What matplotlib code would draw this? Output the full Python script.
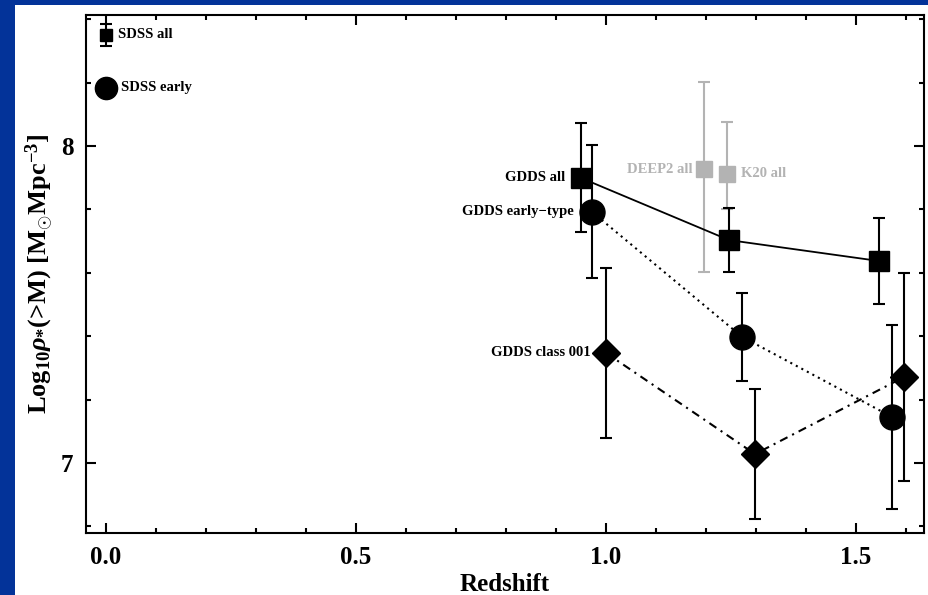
import matplotlib
matplotlib.use("Agg")
import matplotlib.pyplot as plt
from matplotlib.patches import Rectangle
from matplotlib.ticker import MultipleLocator, FixedLocator

plt.rcParams["font.family"] = ["Liberation Serif", "DejaVu Serif"]
plt.rcParams["font.weight"] = "bold"
plt.rcParams["mathtext.fontset"] = "custom"
plt.rcParams["mathtext.rm"] = "Liberation Serif:bold"
plt.rcParams["mathtext.it"] = "Liberation Serif:italic:bold"
plt.rcParams["mathtext.bf"] = "Liberation Serif:bold"

# Local SDSS reference points
sdss_all_z, sdss_all_rho, sdss_all_err = 0.0, 8.35, 0.035
sdss_early_z, sdss_early_rho = 0.0, 8.183

# GDDS: all galaxies
gdds_all_z = [0.95, 1.246, 1.546]
gdds_all_rho = [7.899, 7.703, 7.637]
gdds_all_err = [0.172, 0.10, 0.135]

# GDDS: early-type galaxies
gdds_early_z = [0.972, 1.272, 1.572]
gdds_early_rho = [7.792, 7.398, 7.145]
gdds_early_err = [0.21, 0.139, 0.29]

# GDDS: class 001
gdds_c001_z = [1.0, 1.298, 1.596]
gdds_c001_rho = [7.347, 7.028, 7.271]
gdds_c001_err = [0.268, 0.205, 0.328]

# Comparison surveys
deep2_z, deep2_rho = 1.196, 7.927
deep2_err_lo, deep2_err_hi = 0.325, 0.275
k20_z, k20_rho = 1.242, 7.912
k20_err_lo, k20_err_hi = 0.111, 0.164

fig = plt.figure(figsize=(9.29, 5.95), dpi=100)
fig.patch.set_facecolor("white")
# slide background strips
blue = "#033399"
fig.add_artist(Rectangle((0, 0), 15 / 929, 1, transform=fig.transFigure,
                         facecolor=blue, edgecolor="none", zorder=-10))
fig.add_artist(Rectangle((0, 1 - 5 / 595), 1, 5 / 595, transform=fig.transFigure,
                         facecolor=blue, edgecolor="none", zorder=-10))

ax = fig.add_axes([86 / 929, 62 / 595, 838 / 929, 518 / 595])
ax.set_xlim(-0.04, 1.636)
ax.set_ylim(6.779, 8.413)

black = "black"
gray = "#b3b3b3"
ebkw = dict(elinewidth=1.5, capsize=4, capthick=1.5)

# gray comparison points
ax.errorbar([deep2_z], [deep2_rho], yerr=[[deep2_err_lo], [deep2_err_hi]],
            fmt="s", ms=11.5, color=gray, ecolor=gray, **ebkw)
ax.errorbar([k20_z], [k20_rho], yerr=[[k20_err_lo], [k20_err_hi]],
            fmt="s", ms=11.5, color=gray, ecolor=gray, **ebkw)

# SDSS
ax.errorbar([sdss_all_z], [sdss_all_rho], yerr=[sdss_all_err],
            fmt="s", ms=9, color=black, **ebkw)
ax.plot([sdss_early_z], [sdss_early_rho], "o", ms=16, color=black)

# GDDS series
ax.errorbar(gdds_all_z, gdds_all_rho, yerr=gdds_all_err, fmt="s", ms=15,
            color=black, ls="-", lw=1.3, **ebkw)
ax.errorbar(gdds_early_z, gdds_early_rho, yerr=gdds_early_err, fmt="o", ms=18,
            color=black, ls=(0, (1, 2)), lw=1.5, **ebkw)
ax.errorbar(gdds_c001_z, gdds_c001_rho, yerr=gdds_c001_err, fmt="D", ms=14,
            color=black, ls=(0, (4, 2.5, 1, 2.5)), lw=1.5, **ebkw)

lab = dict(fontsize=10.5, fontweight="bold", va="center")
ax.annotate("SDSS all", (sdss_all_z, sdss_all_rho), xytext=(9, 0),
            textcoords="offset points", ha="left", **lab)
ax.annotate("SDSS early", (sdss_early_z, sdss_early_rho), xytext=(11, 0),
            textcoords="offset points", ha="left", **lab)
ax.annotate("GDDS all", (gdds_all_z[0], gdds_all_rho[0]), xytext=(-11, 0),
            textcoords="offset points", ha="right", **lab)
ax.annotate("GDDS early\u2212type", (gdds_early_z[0], gdds_early_rho[0]),
            xytext=(-13, 0), textcoords="offset points", ha="right", **lab)
ax.annotate("GDDS class 001", (gdds_c001_z[0], gdds_c001_rho[0]),
            xytext=(-11, 0), textcoords="offset points", ha="right", **lab)
ax.annotate("DEEP2 all", (deep2_z, deep2_rho), xytext=(-8, 0),
            textcoords="offset points", ha="right", color=gray, **lab)
ax.annotate("K20 all", (k20_z, k20_rho), xytext=(10, 0),
            textcoords="offset points", ha="left", color=gray, **lab)

ax.xaxis.set_major_locator(FixedLocator([0.0, 0.5, 1.0, 1.5]))
ax.xaxis.set_minor_locator(MultipleLocator(0.1))
ax.yaxis.set_major_locator(FixedLocator([7, 8]))
ax.yaxis.set_minor_locator(MultipleLocator(0.2))
ax.set_xticklabels(["0.0", "0.5", "1.0", "1.5"])
ax.set_yticklabels(["7", "8"])
ax.tick_params(which="both", direction="in", top=True, right=True,
               width=1.5, labelsize=18, pad=9)
ax.tick_params(which="major", length=7)
ax.tick_params(which="minor", length=3.5)
for s in ax.spines.values():
    s.set_linewidth(1.5)

ax.set_xlabel("Redshift", fontsize=18, fontweight="bold", labelpad=3)
ax.set_ylabel(r"Log$_{10}\rho_{*}$(>M) [M$_{\odot}$Mpc$^{-3}$]",
              fontsize=19, fontweight="bold", labelpad=4)

fig.savefig("out.png", dpi=100)
